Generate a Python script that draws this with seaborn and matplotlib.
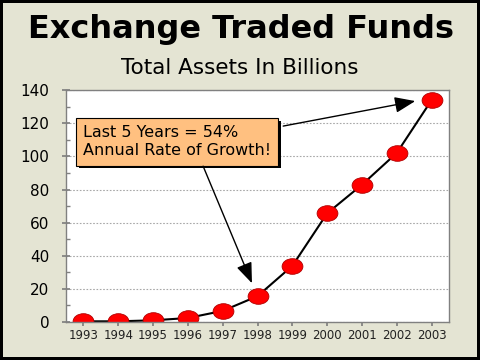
import matplotlib
matplotlib.use("Agg")
import matplotlib.pyplot as plt
import matplotlib.patheffects as pe
from matplotlib.markers import MarkerStyle
from matplotlib.path import Path
from matplotlib.transforms import Affine2D
from matplotlib.ticker import MultipleLocator
import pandas as pd
import seaborn as sns

# data
years = ["1993", "1994", "1995", "1996", "1997", "1998", "1999", "2000", "2001", "2002", "2003"]
assets = [0.4, 0.4, 1.0, 2.4, 6.7, 15.6, 33.9, 65.6, 82.9, 102.1, 134.0]

title = "Exchange Traded Funds"
subtitle = "Total Assets In Billions"
callout = "Last 5 Years = 54%\nAnnual Rate of Growth!"

BG = "#E4E4D3"

sns.set_theme(style="white")
plt.rcParams["font.family"] = ["DejaVu Sans"]
plt.rcParams["text.color"] = "black"
plt.rcParams["xtick.color"] = "black"
plt.rcParams["ytick.color"] = "black"

df = pd.DataFrame({"year": years, "assets": assets})

fig = plt.figure(figsize=(4.8, 3.6), dpi=100, facecolor=BG, edgecolor="black", linewidth=4)
ax = fig.add_axes([0.1375, 0.1056, 0.798, 0.644])
ax.set_facecolor("white")

oval = MarkerStyle(Path.unit_circle().transformed(Affine2D().scale(1.0, 0.75)))
sns.lineplot(data=df, x="year", y="assets", ax=ax, color="black", linewidth=1.5,
             marker=oval, markersize=15, markerfacecolor="#FF0000",
             markeredgecolor="#B00000", markeredgewidth=0.6)

ax.set_xlim(-0.5, len(years) - 0.5)
ax.set_ylim(0, 140)
ax.yaxis.set_major_locator(MultipleLocator(20))
ax.yaxis.set_minor_locator(MultipleLocator(10))
ax.grid(axis="y", which="major", color="#A8A8A8", linestyle=(0, (1.5, 1.5)), linewidth=0.8)
ax.set_xlabel("")
ax.set_ylabel("")
for s in ax.spines.values():
    s.set_color("#808080")
    s.set_linewidth(1.0)
ax.tick_params(axis="y", which="major", direction="inout", length=6, color="#808080",
               labelsize=11, labelcolor="black", pad=9, left=True)
ax.tick_params(axis="y", which="minor", direction="in", length=3, color="#808080", left=True)
ax.tick_params(axis="x", direction="out", length=3, color="#808080", labelsize=8.5,
               labelcolor="#222222", pad=2, bottom=True)

fig.text(0.502, 0.894, title, ha="center", va="baseline", fontsize=23, fontweight="bold")
fig.text(0.5, 0.794, subtitle, ha="center", va="baseline", fontsize=15.5)

box = ax.text(0.045, 0.777, callout, transform=ax.transAxes, ha="left", va="center",
              fontsize=11.5, linespacing=1.25,
              bbox=dict(boxstyle="square,pad=0.45", facecolor="#FFC080", edgecolor="black",
                        linewidth=0.8))
box.get_bbox_patch().set_path_effects([
    pe.SimplePatchShadow(offset=(2, -2), shadow_rgbFace="black", alpha=1.0),
    pe.Normal(),
])

arrow = dict(arrowstyle="-|>,head_length=0.9,head_width=0.35", color="black", lw=1.0,
             shrinkA=0, shrinkB=0, mutation_scale=14)
ax.annotate("", xy=(9.53, 133.4), xycoords="data", xytext=(0.567, 0.845),
            textcoords="axes fraction", arrowprops=arrow)
ax.annotate("", xy=(4.84, 23.4), xycoords="data", xytext=(0.358, 0.672),
            textcoords="axes fraction", arrowprops=arrow)

fig.savefig("out.png", dpi=100, facecolor=BG)
